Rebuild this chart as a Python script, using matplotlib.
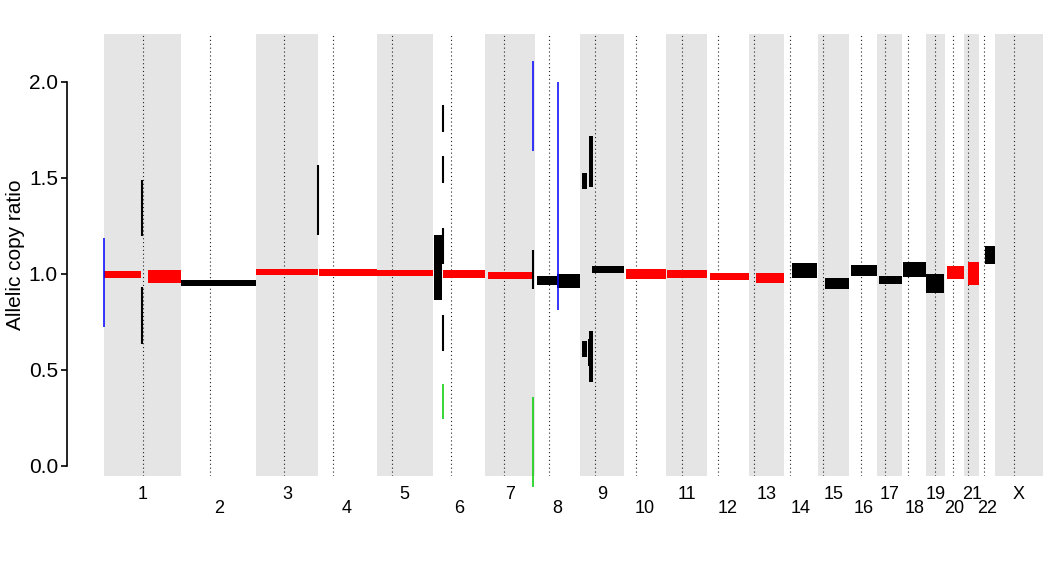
import matplotlib
matplotlib.use("Agg")
import matplotlib.pyplot as plt

plt.rcParams['font.family'] = ['Liberation Sans', 'DejaVu Sans']

# chromosome sizes and centromeres, Mb (hg19)
chrom_names = [str(i) for i in range(1, 23)] + ['X']
chrom_len = [249.25, 243.2, 198.0, 191.15, 180.9, 171.1, 159.1, 146.4, 141.2, 135.5,
             135.0, 133.85, 115.2, 107.35, 102.5, 90.35, 81.2, 78.1, 59.1, 63.0,
             48.1, 51.3, 155.3]
centromere = [125.0, 93.3, 91.0, 50.4, 48.4, 61.0, 59.9, 45.6, 49.0, 40.2,
              53.7, 35.8, 17.9, 17.6, 19.0, 36.6, 24.0, 17.2, 26.5, 27.5,
              13.2, 14.7, 60.6]

# segments: chromosome, start, end (Mb), low, high ratio, colour
seg_chrom = [1, 1, 2, 3, 4, 5, 6, 6, 7, 8, 8, 9, 9, 9, 9, 9, 9, 10, 11, 12,
             13, 14, 15, 16, 17, 18, 19, 20, 21, 22]
seg_start = [0, 142, 0, 0, 4, 0, 6, 34, 9, 6, 73.6, 8, 29.7, 8, 26.5, 29.7, 40, 6, 6, 10,
             24.5, 25.5, 25, 6.5, 6.5, 2.5, 0, 8, 12.5, 19.4]
seg_end = [119.5, 249, 243, 198, 191, 181, 32, 171, 153, 73.6, 146, 24, 43.6, 24, 29.7, 43.6, 141, 135.5, 135, 134,
           115, 107, 102.5, 90, 81, 77, 57, 63, 48, 51]
seg_low = [0.979, 0.953, 0.938, 0.995, 0.990, 0.990, 0.865, 0.979, 0.974, 0.943, 0.927,
           1.443, 1.453, 0.568, 0.521, 0.438, 1.005, 0.974, 0.979, 0.969,
           0.953, 0.979, 0.922, 0.990, 0.948, 0.984, 0.901, 0.974, 0.943, 1.052]
seg_high = [1.016, 1.021, 0.969, 1.026, 1.026, 1.021, 1.203, 1.021, 1.010, 0.990, 1.000,
            1.526, 1.719, 0.651, 0.661, 0.703, 1.042, 1.026, 1.021, 1.005,
            1.005, 1.057, 0.979, 1.047, 0.990, 1.063, 1.000, 1.042, 1.063, 1.146]
seg_col = ['red', 'red', 'black', 'red', 'red', 'red', 'black', 'red', 'red', 'black', 'black',
           'black', 'black', 'black', 'black', 'black', 'black', 'red', 'red', 'red',
           'red', 'black', 'black', 'black', 'black', 'black', 'black', 'red', 'red', 'black']

# thin segments drawn as lines
line_chrom = [1, 1, 1, 4, 6, 6, 6, 6, 6, 7, 7, 7, 8]
line_pos = [122.5, 122.5, 1, 0.5, 34, 34, 34, 34, 34, 155, 154.5, 154.5, 74.5]
line_low = [1.198, 0.635, 0.724, 1.203, 1.74, 1.474, 1.052, 0.599, 0.245, 0.922, 1.64, -0.109, 0.8125]
line_high = [1.49, 0.932, 1.1875, 1.568, 1.88, 1.615, 1.24, 0.786, 0.427, 1.125, 2.109, 0.359, 2.0]
line_col = ['black', 'black', 'blue', 'black', 'black', 'black', 'black', 'black', '#00CD00',
            'black', 'blue', '#00CD00', 'blue']

starts = [0]
for l in chrom_len[:-1]:
    starts.append(starts[-1] + l)
total = starts[-1] + chrom_len[-1]

fig = plt.figure(figsize=(10.43, 5.69), dpi=100)
ax = fig.add_axes([67 / 1043, 1 - 476 / 569, 976 / 1043, 442 / 569])
y_bot, y_top = -0.0521, 2.25
ax.set_xlim(-119.5, total)
ax.set_ylim(y_bot, y_top)

for i, (s, l) in enumerate(zip(starts, chrom_len)):
    if i % 2 == 0:
        ax.axvspan(s, s + l, color='#E5E5E5', lw=0, zorder=0)
    ax.vlines(s + centromere[i], y_bot, y_top, colors='#222222', linestyles=(0, (1, 2.5)),
              lw=0.8, zorder=1)
    ypos = -0.146 if i % 2 == 0 else -0.219
    ax.text(s + l / 2, ypos, chrom_names[i], ha='center', va='center', fontsize=13,
            clip_on=False)

for c, a, b, lo, hi, col in zip(seg_chrom, seg_start, seg_end, seg_low, seg_high, seg_col):
    x0 = starts[c - 1]
    ax.bar(x0 + a, hi - lo, width=b - a, bottom=lo, align='edge', color=col, lw=0, zorder=3)

for c, p, lo, hi, col in zip(line_chrom, line_pos, line_low, line_high, line_col):
    lw = 1.5 if col == 'black' else 1.1
    ax.vlines(starts[c - 1] + p, lo, hi, colors=col, lw=lw, zorder=4, clip_on=False)

for sp in ['top', 'right', 'bottom']:
    ax.spines[sp].set_visible(False)
ax.spines['left'].set_bounds(0, 2)
ax.spines['left'].set_linewidth(1.2)
ax.set_xticks([])
ax.set_yticks([0, 0.5, 1.0, 1.5, 2.0])
ax.set_yticklabels(['0.0', '0.5', '1.0', '1.5', '2.0'])
ax.tick_params(axis='y', length=4.5, width=1.2, labelsize=15, pad=2)
ax.set_ylabel('Allelic copy ratio', fontsize=15, labelpad=3)

fig.savefig('out.png', dpi=100)
